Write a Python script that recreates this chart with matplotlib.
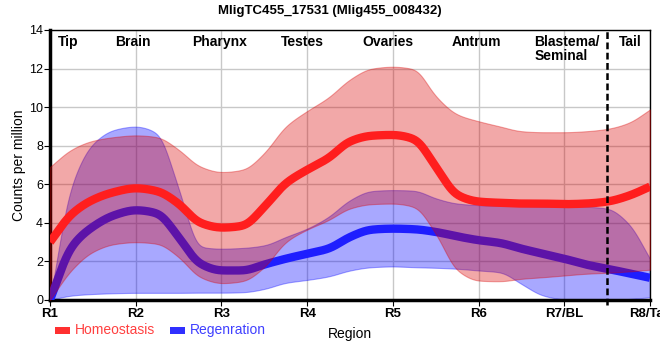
import numpy as np
import matplotlib
matplotlib.use('Agg')
import matplotlib.pyplot as plt
from matplotlib.patches import Rectangle

plt.rcParams['font.family'] = ['Liberation Sans', 'DejaVu Sans']

pos = [0, 0.25, 0.5, 0.75, 1, 1.25, 1.5, 1.75, 2, 2.25, 2.5, 2.75, 3, 3.25, 3.5, 3.75,
       4, 4.25, 4.5, 4.75, 5, 5.25, 5.5, 5.75, 6, 6.25, 6.5, 6.75, 7]
tick_labels = ['R1', 'R2', 'R3', 'R4', 'R5', 'R6', 'R7/BL', 'R8/Tail']
region_names = ['Tip', 'Brain', 'Pharynx', 'Testes', 'Ovaries', 'Antrum', 'Blastema/\nSeminal', 'Tail']
region_x = [0.21, 0.97, 1.98, 2.94, 3.94, 4.98, 5.65, 6.77]

homeo_mean = [3.0, 4.45, 5.2, 5.6, 5.8, 5.65, 5.0, 4.0, 3.75, 3.84, 4.83, 6.05, 6.75, 7.36, 8.23,
              8.52, 8.56, 8.35, 6.92, 5.44, 5.1, 5.04, 5.0, 5.0, 4.97, 5.0, 5.1, 5.4, 5.88]
homeo_hi = [6.9, 7.8, 8.26, 8.45, 8.54, 8.45, 7.8, 6.92, 6.63, 6.75, 7.62, 9.0, 9.8, 10.5, 11.44,
            12.0, 12.1, 11.97, 10.57, 9.62, 9.27, 9.0, 8.75, 8.7, 8.7, 8.75, 8.87, 9.18, 9.88]
homeo_lo = [0.0, 1.55, 2.5, 2.9, 3.0, 2.92, 2.23, 1.18, 0.87, 0.97, 1.7, 3.0, 3.65, 4.14, 4.75,
            4.97, 5.0, 4.83, 3.44, 1.53, 1.0, 0.97, 1.1, 1.18, 1.27, 1.36, 1.41, 1.48, 1.57]

regen_mean = [0.0, 2.75, 3.8, 4.4, 4.66, 4.5, 3.27, 1.88, 1.53, 1.53, 1.84, 2.14, 2.4, 2.66, 3.27,
              3.65, 3.7, 3.67, 3.53, 3.3, 3.1, 2.96, 2.66, 2.4, 2.14, 1.84, 1.62, 1.39, 1.15]
regen_hi = [0.0, 5.9, 8.1, 8.83, 9.0, 8.66, 5.8, 2.75, 2.66, 2.7, 2.83, 3.27, 3.7, 4.31, 5.18,
            5.65, 5.7, 5.67, 5.27, 5.0, 4.92, 4.89, 4.87, 4.85, 4.83, 4.83, 4.75, 3.97, 2.14]
regen_lo = [0.0, 0.23, 0.31, 0.35, 0.37, 0.37, 0.37, 0.38, 0.38, 0.4, 0.57, 0.89, 1.04, 1.22, 1.53,
            1.7, 1.74, 1.7, 1.67, 1.62, 1.53, 1.44, 0.83, 0.23, 0.03, 0.0, 0.0, 0.05, 0.14]


def monotone(x, y, xs):
    # Fritsch-Carlson monotone cubic interpolation
    x = np.asarray(x, float)
    y = np.asarray(y, float)
    h = np.diff(x)
    d = np.diff(y) / h
    m = np.zeros_like(y)
    m[0], m[-1] = d[0], d[-1]
    for k in range(1, len(y) - 1):
        if d[k - 1] * d[k] > 0:
            w1 = 2 * h[k] + h[k - 1]
            w2 = h[k] + 2 * h[k - 1]
            m[k] = (w1 + w2) / (w1 / d[k - 1] + w2 / d[k])
    idx = np.clip(np.searchsorted(x, xs) - 1, 0, len(x) - 2)
    t = (xs - x[idx]) / h[idx]
    h00 = 2 * t**3 - 3 * t**2 + 1
    h10 = t**3 - 2 * t**2 + t
    h01 = -2 * t**3 + 3 * t**2
    h11 = t**3 - t**2
    return h00 * y[idx] + h10 * h[idx] * m[idx] + h01 * y[idx + 1] + h11 * h[idx] * m[idx + 1]


xs = np.linspace(0, 7, 1401)


def curve(vals, sigma=0.05):
    # interpolate, then soften the small corners left at the sample points
    ys = monotone(pos, vals, xs)
    step = xs[1] - xs[0]
    n = int(3 * sigma / step)
    k = np.exp(-0.5 * (np.arange(-n, n + 1) * step / sigma) ** 2)
    k /= k.sum()
    padded = np.concatenate([2 * ys[0] - ys[n:0:-1], ys, 2 * ys[-1] - ys[-2:-n - 2:-1]])
    return np.clip(np.convolve(padded, k, mode='valid'), 0, None)


red_fill = (217 / 255, 0, 0)
blue_fill = (0, 0, 1)

fig = plt.figure(figsize=(6.6, 3.6), dpi=100)
ax = fig.add_axes([50 / 660, 60 / 360, 600 / 660, 270 / 360])

# blue band + line first, red band on top (so the blue line turns purple inside it)
ax.fill_between(xs, curve(regen_lo), curve(regen_hi), color=blue_fill, alpha=0.34, lw=0.8, zorder=2)
ax.plot(xs, curve(regen_mean), color='#1e1eff', lw=6, solid_capstyle='butt', zorder=3)
ax.fill_between(xs, curve(homeo_lo), curve(homeo_hi), color=red_fill, alpha=0.34, lw=0.8, zorder=4)
ax.plot(xs, curve(homeo_mean), color='#ff1e1e', lw=6, solid_capstyle='butt', zorder=5)

ax.axvline(6.5, color='black', lw=1.8, ls=(0, (2.7, 1.4)), zorder=6, ymin=-0.02, clip_on=False)

ax.set_xlim(0, 7)
ax.set_ylim(0, 14)
ax.set_xticks(range(8))
ax.set_xticklabels(tick_labels, fontsize=9.5, fontweight='bold')
ax.set_yticks(range(0, 15, 2))
ax.tick_params(axis='y', labelsize=9, length=4, pad=1)
ax.tick_params(axis='x', length=4, pad=2)
ax.grid(color='#c8c8c8', lw=1, zorder=0)
ax.set_axisbelow(True)
for s in ['left', 'bottom']:
    ax.spines[s].set_linewidth(2.5)
for s in ['top', 'right']:
    ax.spines[s].set_linewidth(1)

for name, x in zip(region_names, region_x):
    ha = 'left' if '/' in name else 'center'
    ax.text(x, 13.75, name, ha=ha, va='top', fontsize=10, fontweight='bold', linespacing=1.0)

ax.set_ylabel('Counts per million', fontsize=10, labelpad=2)
ax.set_xlabel('Region', fontsize=10, labelpad=5)
fig.text(0.5, 0.985, 'MligTC455_17531 (Mlig455_008432)', ha='center', va='top',
         fontsize=9.5, fontweight='bold')

# legend below the axes
legend_items = [('Homeostasis', '#ff3030', '#ff4040', 55), ('Regenration', '#3030ff', '#4040ff', 170)]
for label, fc, tc, px in legend_items:
    fig.add_artist(Rectangle((px / 660, 1 - 334 / 360), 15 / 660, 7 / 360,
                             transform=fig.transFigure, color=fc, lw=0))
    fig.text((px + 20) / 660, 1 - 330 / 360, label, color=tc, fontsize=10, va='center')

fig.savefig('out.png', dpi=100)
